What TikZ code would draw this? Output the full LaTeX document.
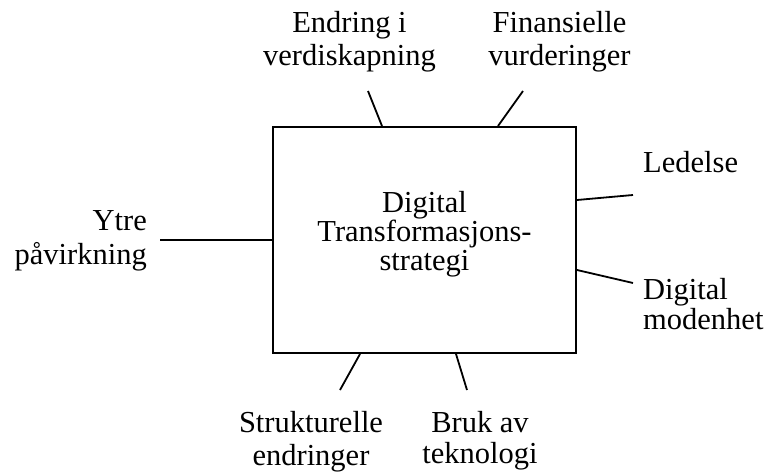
\documentclass[tikz,border=0pt]{standalone}
\usepackage{fontspec}
\setmainfont{Liberation Serif}
\usetikzlibrary{positioning}
\tikzset{
  factor/.style={inner sep=0pt, align=center, font=\fontsize{30.5}{33}\selectfont},
  frame/.style={draw, line width=2pt, minimum width=303pt, minimum height=226pt, inner sep=0pt},
  spoke/.style={line width=1.8pt}
}

\begin{document}
\begin{tikzpicture}[x=1pt,y=-1pt]
\useasboundingbox (0,0) rectangle (771,476);

% strategy box
\node[frame] (box) at (424.5,240) {};
\node[factor, font=\fontsize{30.5}{29}\selectfont] (strategy) at (424.5,233.8) {Digital\\Transformasjons-\\strategi};

% factors round the box
\node[factor] (endring) at (349.5,41.3) {Endring i\\verdiskapning};
\node[factor] (finans) at (559.5,41.3) {Finansielle\\vurderinger};
\node[factor, anchor=base west] (ledelse) at (643,172) {Ledelse};
\node[factor, align=left, anchor=west, font=\fontsize{30.5}{30}\selectfont] (modenhet) at (643,304.5) {Digital\\modenhet};
\node[factor, align=right, anchor=east, font=\fontsize{30.5}{34}\selectfont] (ytre) at (147,241) {Ytre\\påvirkning};
\node[factor] (struktur) at (311,441.3) {Strukturelle\\endringer};
\node[factor, font=\fontsize{30.5}{31}\selectfont] (bruk) at (480,440.3) {Bruk av\\teknologi};

% free ends of the spokes
\coordinate (endring end) at (368,91);
\coordinate (finans end) at (523,91);
\coordinate (ledelse end) at (633,195);
\coordinate (modenhet end) at (633,283);
\coordinate (ytre end) at (160,240);
\coordinate (struktur end) at (340,390);
\coordinate (bruk end) at (467,390);

\draw[spoke] (box.north west) ++(110,0) -- (endring end);
\draw[spoke] (box.north west) ++(226,0) -- (finans end);
\draw[spoke] (box.north east) ++(0,74) -- (ledelse end);
\draw[spoke] (box.north east) ++(0,144) -- (modenhet end);
\draw[spoke] (box.west) -- (ytre end);
\draw[spoke] (box.south west) ++(88,0) -- (struktur end);
\draw[spoke] (box.south west) ++(184,0) -- (bruk end);
\end{tikzpicture}
\end{document}
